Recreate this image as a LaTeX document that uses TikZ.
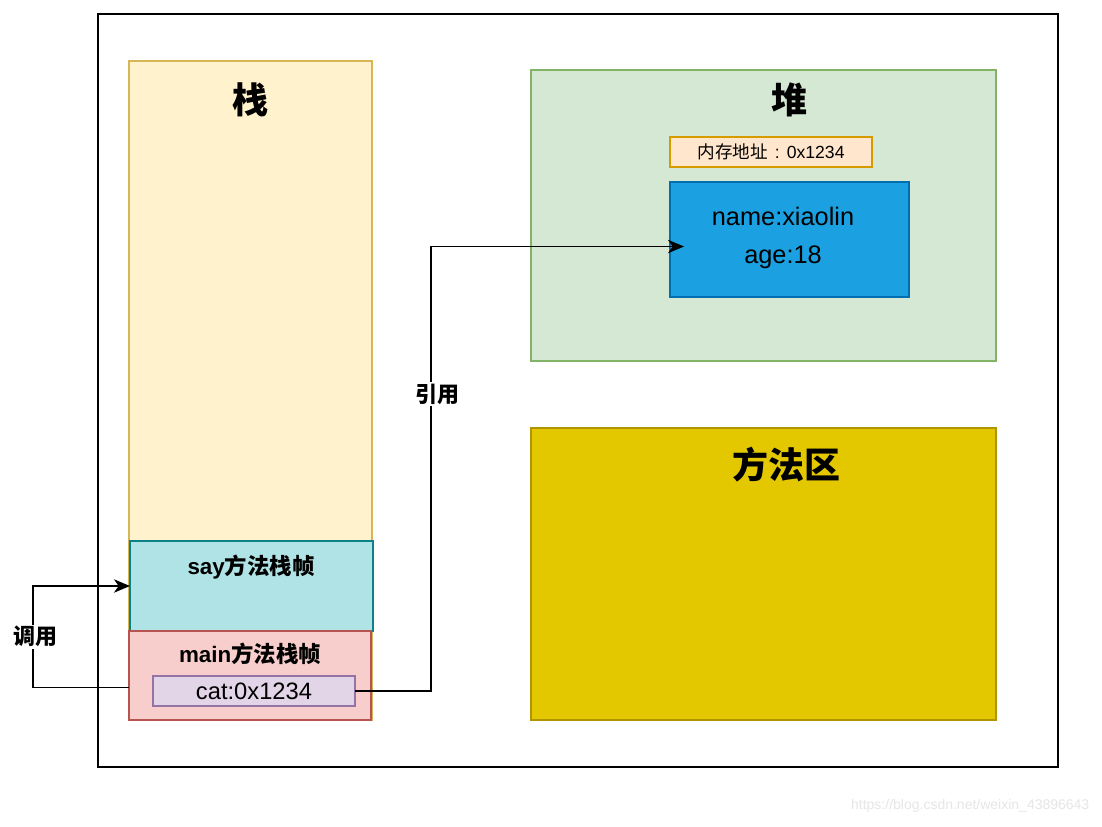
\documentclass[tikz,border=0pt]{standalone}
\usepackage{fontspec}
\setmainfont{Liberation Sans}
\newfontfamily\cjk{Noto Sans CJK SC}
\usetikzlibrary{arrows.meta,fit}
\definecolor{stackfill}{HTML}{FFF2CC}
\definecolor{stackline}{HTML}{D6B656}
\definecolor{sayfill}{HTML}{B0E3E6}
\definecolor{sayline}{HTML}{0E8088}
\definecolor{mainfill}{HTML}{F8CECC}
\definecolor{mainline}{HTML}{B85450}
\definecolor{catfill}{HTML}{E1D5E7}
\definecolor{catline}{HTML}{9673A6}
\definecolor{heapfill}{HTML}{D5E8D4}
\definecolor{heapline}{HTML}{82B366}
\definecolor{addrfill}{HTML}{FFE6CC}
\definecolor{addrline}{HTML}{D79B00}
\definecolor{objfill}{HTML}{1BA1E2}
\definecolor{objline}{HTML}{006EAF}
\definecolor{methfill}{HTML}{E3C800}
\definecolor{methline}{HTML}{B09500}
\definecolor{wm}{HTML}{E6E6E6}
\tikzset{
  area/.style={inner sep=0pt, outer sep=0pt, line width=0.9pt},
  head/.style={font=\fontsize{27}{32}\selectfont\cjk\bfseries},
  frametxt/.style={font=\fontsize{16.8}{20}\selectfont\bfseries},
  valtxt/.style={font=\fontsize{17.8}{21}\selectfont},
  edgelbl/.style={fill=white, inner sep=1pt, font=\fontsize{16.5}{20}\selectfont\cjk\bfseries},
  conn/.style={line width=1.2pt, -{Stealth[length=12pt,width=10pt,inset=3.5pt]}},
}
\begin{document}
\begin{tikzpicture}[x=0.75pt,y=-0.75pt]
\useasboundingbox[fill=white] (0,0) rectangle (1102,826);
% outer frame
\node[area, draw=black, fit={(98,14)(1058,767)}] (outer) {};
% stack
\node[area, draw=stackline, fill=stackfill, fit={(129,61)(372,720)}] (stack) {};
\node[head] (stacklbl) at (250,100) {栈};
\node[area, draw=sayline, fill=sayfill, fit={(130,541)(373,631)}] (say) {};
\node[frametxt] (saylbl) at (251,567) {say{\cjk 方法栈帧}};
\node[area, draw=mainline, fill=mainfill, fit={(129,631)(371,720)}] (main) {};
\node[frametxt] (mainlbl) at (250,654) {main{\cjk 方法栈帧}};
\node[area, draw=catline, fill=catfill, fit={(153,676)(355,706)}] (cat) {};
\node[valtxt] (cattxt) at (254,691) {cat:0x1234};
% heap
\node[area, draw=heapline, fill=heapfill, fit={(531,70)(996,361)}] (heap) {};
\node[head] (heaplbl) at (789,100) {堆};
\node[area, draw=addrline, fill=addrfill, fit={(670,137)(872,167)}] (addr) {};
\node[font=\fontsize{13.2}{16}\selectfont] (addrtxt) at (771,152) {{\cjk 内存地址}\hspace{0.4em}:\hspace{0.4em}0x1234};
\node[area, draw=objline, fill=objfill, fit={(670,182)(909,297)}] (obj) {};
\node[font=\fontsize{19}{22}\selectfont] (objname) at (783,216) {name:xiaolin};
\node[font=\fontsize{19}{22}\selectfont] (objage) at (783,257) {age:18};
% method area
\node[area, draw=methline, fill=methfill, fit={(531,428)(996,720)}] (meth) {};
\node[head] (methlbl) at (786,465) {方法区};
% connectors
\coordinate (mainout) at ([shift={(0,12)}]main.west);
\coordinate (objin) at ([shift={(14,7)}]obj.west);
\draw[conn] (mainout) -- ++(-96,0) |- (say.west)
  node[edgelbl, pos=0.25, xshift=1.5pt] (calllbl) {调用};
\draw[conn] (cat.east) -- ++(76,0) |- (objin)
  node[edgelbl, pos=0.334, xshift=4.5pt] (reflbl) {引用};
% watermark
\node[text=wm, font=\fontsize{10.5}{12}\selectfont, anchor=east] (wmark) at (1094,806) {https://blog.csdn.net/weixin\_43896643};
\end{tikzpicture}
\end{document}
